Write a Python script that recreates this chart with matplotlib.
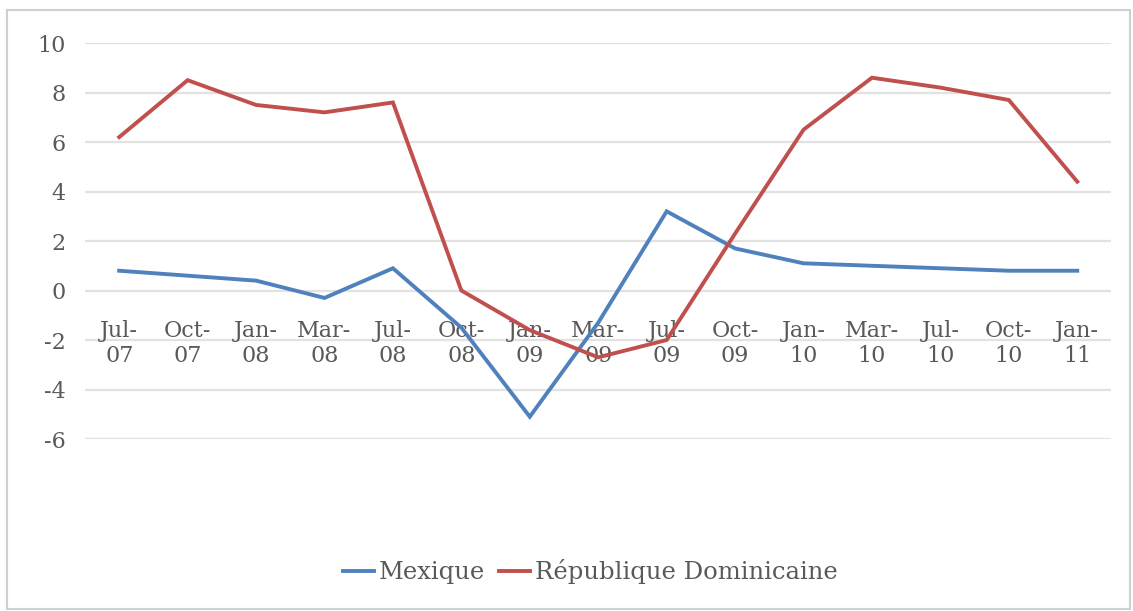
import matplotlib.pyplot as plt
from matplotlib.patches import Rectangle

# Data
periods = ["Jul-\n07", "Oct-\n07", "Jan-\n08", "Mar-\n08", "Jul-\n08", "Oct-\n08",
           "Jan-\n09", "Mar-\n09", "Jul-\n09", "Oct-\n09", "Jan-\n10", "Mar-\n10",
           "Jul-\n10", "Oct-\n10", "Jan-\n11"]
mexique = [0.8, 0.6, 0.4, -0.3, 0.9, -1.5, -5.1, -1.3, 3.2, 1.7, 1.1, 1.0, 0.9, 0.8, 0.8]
rep_dom = [6.2, 8.5, 7.5, 7.2, 7.6, 0.0, -1.6, -2.7, -2.0, 2.3, 6.5, 8.6, 8.2, 7.7, 4.4]
yticks = [-6, -4, -2, 0, 2, 4, 6, 8, 10]

plt.rcParams['font.family'] = ['DejaVu Serif']

text_color = '#595959'
grid_color = '#E2E2E2'
blue = '#4F81BD'
red = '#C0504D'

fig = plt.figure(figsize=(11.33, 6.11), dpi=100)
ax = fig.add_axes([0.075, 0.2815, 0.906, 0.648])

x = list(range(len(periods)))
ax.plot(x, mexique, color=blue, lw=2.8, label="Mexique", solid_joinstyle='miter')
ax.plot(x, rep_dom, color=red, lw=2.8, label="République Dominicaine", solid_joinstyle='miter')

ax.set_xlim(-0.5, len(periods) - 0.5)
ax.set_ylim(-6, 10)
ax.set_yticks(yticks)
ax.set_yticklabels([str(v) for v in yticks])
ax.set_xticks(x)
ax.set_xticklabels(periods, linespacing=1.65)

for v in yticks:
    ax.axhline(v, color=grid_color, lw=1.6, zorder=0)

for s in ['top', 'right', 'left']:
    ax.spines[s].set_visible(False)
ax.spines['bottom'].set_position(('data', 0))
ax.spines['bottom'].set_visible(False)

ax.tick_params(axis='y', length=0, pad=14, labelsize=16, labelcolor=text_color)
ax.tick_params(axis='x', length=0, pad=21, labelsize=16, labelcolor=text_color)

fig.legend(loc='center', bbox_to_anchor=(0.521, 0.064), ncol=2, frameon=False,
           fontsize=17.5, labelcolor=text_color, handlelength=1.25,
           handletextpad=0.2, columnspacing=0.6)

fig.patches.append(Rectangle((0.006, 0.004), 0.991, 0.98, transform=fig.transFigure,
                             fill=False, edgecolor='#D0D0D0', lw=1.5))

fig.savefig("out.png", dpi=100)
